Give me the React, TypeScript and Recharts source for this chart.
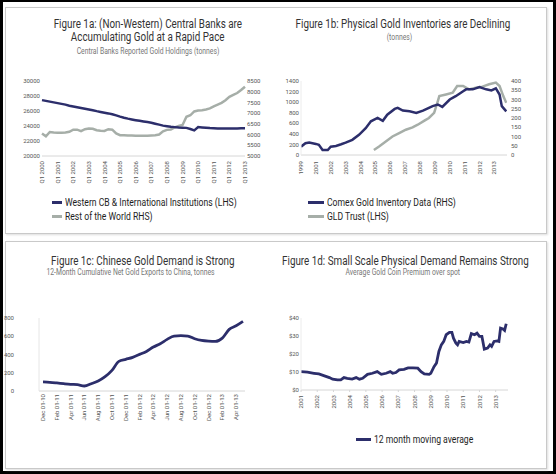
import React from 'react';
import { LineChart, Line, XAxis, YAxis } from 'recharts';

const FONT = 'Roboto, "Liberation Sans", sans-serif';
const NAVY = '#2c2e6b';
const GREY = '#a6aea8';
const AXIS = '#d6d6d6';
const TICK = '#555555';
const SQUEEZE = 0.82;

// Figure 1a - quarterly, Q1 2000 .. Q1 2013
const years1a = [2000, 2001, 2002, 2003, 2004, 2005, 2006, 2007, 2008, 2009, 2010, 2011, 2012, 2013];
const westernCB = [
  27450, 27350, 27250, 27150, 27050, 26950, 26850, 26700, 26600, 26500,
  26400, 26300, 26200, 26100, 25980, 25880, 25780, 25680, 25560, 25420,
  25250, 25100, 24980, 24880, 24780, 24690, 24600, 24520, 24430, 24300,
  24180, 24050, 23980, 23900, 23850, 23800, 23780, 23750, 23600, 23420,
  23850, 23800, 23760, 23720, 23700, 23680, 23680, 23660, 23660, 23670,
  23680, 23690, 23700,
];
const restOfWorld = [
  6050, 5920, 6120, 6100, 6090, 6080, 6100, 6130, 6230, 6230,
  6160, 6250, 6280, 6270, 6200, 6180, 6170, 6250, 6230, 6050,
  5970, 5970, 5960, 5960, 5950, 5950, 5940, 5940, 5960, 5970,
  6000, 6150, 6220, 6240, 6330, 6400, 6450, 6830, 6900, 7080,
  7120, 7140, 7170, 7220, 7320, 7400, 7480, 7600, 7760, 7850,
  7940, 8080, 8230,
];
const quarters1a = years1a.flatMap((y) => [1, 2, 3, 4].map((q) => `Q${q} ${y}`)).slice(0, westernCB.length);
const data1a = quarters1a.map((q, i) => ({ q, western: westernCB[i], rest: restOfWorld[i] }));

// Figure 1b - x in years from first label
const yearLabels1b = ['1999', '2001', '2002', '2003', '2004', '2005', '2006', '2007', '2008', '2009', '2010', '2011', '2012', '2013'];
const comexX = [0, 0.3, 0.55, 1.0, 1.2, 1.45, 1.8, 2.0, 2.35, 2.7, 3.0, 3.45, 3.9, 4.35, 4.7, 5.15, 5.5, 5.8, 6.3, 6.5, 6.85, 7.3, 7.75, 8.2, 8.6, 8.85, 9.2, 9.5, 10.0, 10.4, 10.9, 11.1, 11.55, 12.0, 12.45, 12.8, 13.1, 13.35, 13.5, 13.8];
const comexVal = [45, 64, 67, 60, 55, 27, 27, 45, 49, 58, 67, 82, 109, 145, 182, 200, 185, 218, 249, 255, 240, 236, 227, 240, 255, 264, 273, 260, 300, 318, 345, 355, 355, 367, 355, 349, 360, 327, 264, 236];
const gldX = [4.9, 5.25, 5.7, 6.15, 6.6, 7.05, 7.5, 7.85, 8.3, 8.6, 8.95, 9.2, 9.3, 9.75, 10.2, 10.5, 10.9, 11.3, 11.75, 12.2, 12.65, 13.1, 13.35, 13.6, 13.8];
const gldVal = [95, 160, 255, 350, 414, 478, 522, 573, 650, 700, 796, 1019, 1115, 1146, 1178, 1306, 1306, 1242, 1274, 1293, 1338, 1369, 1306, 1115, 987];
const comexData = comexX.map((t, i) => ({ t, v: comexVal[i] }));
const gldData = gldX.map((t, i) => ({ t, v: gldVal[i] }));

// Figure 1c - monthly, Dec 2010 .. May 2013
const months1c = [
  'Dec 01-10', 'Jan 01-11', 'Feb 01-11', 'Mar 01-11', 'Apr 01-11', 'May 01-11', 'Jun 01-11', 'Jul 01-11',
  'Aug 01-11', 'Sep 01-11', 'Oct 01-11', 'Nov 01-11', 'Dec 01-11', 'Jan 01-12', 'Feb 01-12', 'Mar 01-12',
  'Apr 01-12', 'May 01-12', 'Jun 01-12', 'Jul 01-12', 'Aug 01-12', 'Sep 01-12', 'Oct 01-12', 'Nov 01-12',
  'Dec 01-12', 'Jan 01-13', 'Feb 01-13', 'Mar 01-13', 'Apr 01-13', 'May 01-13',
];
const chinaExports = [99, 95, 88, 80, 73, 69, 55, 80, 110, 157, 226, 325, 347, 369, 401, 434, 482, 518, 566, 602, 606, 602, 573, 555, 547, 544, 580, 675, 715, 763];
const data1c = months1c.map((m, i) => ({ m, v: chinaExports[i] }));

// Figure 1d - x in years from 2001
const yearLabels1d = ['2001', '2002', '2003', '2004', '2005', '2006', '2007', '2008', '2009', '2010', '2011', '2012', '2013'];
const coinX = [0, 0.4, 0.8, 1.1, 1.4, 1.75, 1.95, 2.25, 2.45, 2.65, 2.85, 3.15, 3.4, 3.6, 3.8, 4.1, 4.4, 4.7, 4.95, 5.25, 5.5, 5.65, 5.85, 6.05, 6.35, 6.6, 6.9, 7.2, 7.4, 7.6, 7.9, 8.0, 8.2, 8.35, 8.5, 8.65, 8.8, 8.95, 9.15, 9.3, 9.4, 9.55, 9.65, 9.75, 10.0, 10.2, 10.35, 10.5, 10.7, 10.85, 11.0, 11.15, 11.2, 11.3, 11.5, 11.65, 11.75, 11.9, 12.1, 12.2, 12.3, 12.45, 12.55, 12.65];
const coinPremium = [10.2, 9.9, 9.3, 8.9, 8.0, 6.9, 6.0, 5.6, 5.6, 6.9, 6.5, 6.1, 6.9, 6.0, 6.5, 8.7, 9.3, 10.2, 8.7, 9.3, 10.2, 9.3, 9.7, 11.2, 11.5, 12.3, 12.3, 12.1, 10.2, 8.9, 8.7, 9.3, 13.0, 14.9, 21.4, 25.1, 27.0, 30.7, 32.0, 32.0, 28.8, 26.0, 25.1, 27.0, 26.4, 27.0, 26.6, 31.3, 30.7, 31.6, 29.8, 29.8, 27.5, 22.7, 23.3, 25.1, 24.2, 27.0, 27.3, 27.0, 34.4, 33.9, 33.1, 36.8];
const coinData = coinX.map((t, i) => ({ t, v: coinPremium[i] }));

const tickStyle = { fontSize: 6, fill: TICK, fontFamily: FONT };

const VTick = ({ x, y, payload, fmt }: any) => (
  <text x={x} y={y} transform={`rotate(-90, ${x}, ${y})`} textAnchor="end" dy="0.35em" fontSize={6} fill={TICK} fontFamily={FONT}>
    {fmt ? fmt(payload.value) : payload.value}
  </text>
);

const Text = ({ cx, cy, size, color, children }: any) => (
  <div
    style={{
      position: 'absolute', left: cx - 200, top: cy - size * 0.6, width: 400, textAlign: 'center',
      fontFamily: FONT, fontSize: size, lineHeight: `${size * 1.2}px`, color, whiteSpace: 'nowrap',
    }}
  >
    <span style={{ display: 'inline-block', transform: `scaleX(${SQUEEZE})`, transformOrigin: 'center' }}>{children}</span>
  </div>
);

const LegendRow = ({ x, y, w, color, label }: any) => (
  <div style={{ position: 'absolute', left: x, top: y - 7, height: 14, display: 'flex', alignItems: 'center', fontFamily: FONT, fontSize: 10.5, color: '#1e1e1e', whiteSpace: 'nowrap' }}>
    <span style={{ display: 'inline-block', width: w, height: 3, background: color, marginRight: 3 }} />
    <span style={{ display: 'inline-block', transform: `scaleX(${SQUEEZE})`, transformOrigin: 'left' }}>{label}</span>
  </div>
);

const Box = ({ x, y, w, h }: any) => (
  <div style={{ position: 'absolute', left: x, top: y, width: w, height: h, boxSizing: 'border-box', border: '1.5px solid #c9c9c9', boxShadow: '1px 1px 2px #dddddd' }} />
);

const Chart1a = () => (
  <div style={{ position: 'absolute', left: 0, top: 70 }}>
    <LineChart width={280} height={130} data={data1a} margin={{ top: 11, right: 0, bottom: 0, left: 0 }}>
      <XAxis dataKey="q" interval={3} height={44} tickSize={0} tickMargin={5} axisLine={{ stroke: AXIS }} tickLine={false}
        tick={<VTick />} />
      <YAxis yAxisId="l" width={42} domain={[20000, 30000]} ticks={[20000, 22000, 24000, 26000, 28000, 30000]} interval={0}
        axisLine={false} tickLine={false} tickSize={0} tickMargin={2} tick={tickStyle} />
      <YAxis yAxisId="r" orientation="right" width={35} domain={[5000, 8500]} ticks={[5000, 5500, 6000, 6500, 7000, 7500, 8000, 8500]} interval={0}
        axisLine={false} tickLine={false} tickSize={0} tickMargin={2} tick={tickStyle} />
      <Line yAxisId="r" dataKey="rest" stroke={GREY} strokeWidth={2.5} dot={false} type="linear" isAnimationActive={false} />
      <Line yAxisId="l" dataKey="western" stroke={NAVY} strokeWidth={2.5} dot={false} type="linear" isAnimationActive={false} />
    </LineChart>
  </div>
);

const Chart1b = () => (
  <div style={{ position: 'absolute', left: 276, top: 70 }}>
    <LineChart width={276} height={130} margin={{ top: 11, right: 0, bottom: 0, left: 0 }}>
      <XAxis dataKey="t" type="number" domain={[0, 13.85]} allowDataOverflow ticks={yearLabels1b.map((_, i) => i)} interval={0} height={45}
        tickSize={0} tickMargin={6} axisLine={{ stroke: AXIS }} tickLine={false}
        tick={<VTick fmt={(v: number) => yearLabels1b[v]} />} />
      <YAxis yAxisId="l" width={25} domain={[0, 1400]} ticks={[0, 200, 400, 600, 800, 1000, 1200, 1400]} interval={0}
        axisLine={{ stroke: '#ececec' }} tickLine={false} tickSize={0} tickMargin={2} tick={tickStyle} />
      <YAxis yAxisId="r" orientation="right" width={45} domain={[0, 400]} ticks={[0, 50, 100, 150, 200, 250, 300, 350, 400]} interval={0}
        axisLine={false} tickLine={false} tickSize={0} tickMargin={4} tick={tickStyle} />
      <Line yAxisId="l" data={gldData} dataKey="v" stroke={GREY} strokeWidth={2.5} dot={false} type="linear" isAnimationActive={false} />
      <Line yAxisId="r" data={comexData} dataKey="v" stroke={NAVY} strokeWidth={2.5} dot={false} type="linear" isAnimationActive={false} />
    </LineChart>
  </div>
);

const Chart1c = () => (
  <div style={{ position: 'absolute', left: 0, top: 300 }}>
    <LineChart width={280} height={135} data={data1c} margin={{ top: 18, right: 35, bottom: 0, left: 0 }}>
      <XAxis dataKey="m" interval={1} height={44} padding={{ left: 4, right: 2 }} tickSize={0} tickMargin={3}
        axisLine={{ stroke: AXIS }} tickLine={false} tick={<VTick />} />
      <YAxis width={39} domain={[0, 800]} ticks={[0, 200, 400, 600, 800]} interval={0}
        axisLine={{ stroke: '#e6e6e6' }} tickLine={false} tickSize={0} tickMargin={25} tick={tickStyle} />
      <Line dataKey="v" stroke={NAVY} strokeWidth={2.8} dot={false} type="monotone" isAnimationActive={false} />
    </LineChart>
  </div>
);

const Chart1d = () => (
  <div style={{ position: 'absolute', left: 276, top: 300 }}>
    <LineChart width={280} height={135} data={coinData} margin={{ top: 18, right: 48, bottom: 0, left: 0 }}>
      <XAxis dataKey="t" type="number" domain={[0, 12.76]} allowDataOverflow ticks={yearLabels1d.map((_, i) => i)} interval={0} height={45}
        tickSize={2} tickMargin={3} axisLine={{ stroke: AXIS }} tickLine={{ stroke: AXIS }}
        tick={<VTick fmt={(v: number) => yearLabels1d[v]} />} />
      <YAxis width={25} domain={[0, 40]} ticks={[0, 10, 20, 30, 40]} interval={0} tickFormatter={(v) => `$${v}`}
        axisLine={{ stroke: '#ececec' }} tickLine={false} tickSize={0} tickMargin={2} tick={tickStyle} />
      <Line dataKey="v" stroke={NAVY} strokeWidth={2.8} dot={false} type="linear" isAnimationActive={false} />
    </LineChart>
  </div>
);

export default function App() {
  return (
    <div style={{ position: 'absolute', left: 0, top: 0, width: 556, height: 474, background: '#fff', overflow: 'hidden' }}>
      <div style={{ position: 'absolute', left: 0, top: 0, width: 556, height: 474, boxSizing: 'border-box', borderStyle: 'solid', borderColor: '#000', borderWidth: '2px 3px 3px 3px' }} />
      <Box x={5} y={7} w={542} h={227} />
      <Box x={5} y={241} w={542} h={228} />

      <Text cx={148} cy={24} size={12} color="#333">Figure 1a: (Non-Western) Central Banks are</Text>
      <Text cx={148} cy={37} size={12} color="#333">Accumulating Gold at a Rapid Pace</Text>
      <Text cx={148} cy={52} size={8.3} color="#777">Central Banks Reported Gold Holdings (tonnes)</Text>

      <Text cx={403} cy={24} size={12} color="#333">Figure 1b: Physical Gold Inventories are Declining</Text>
      <Text cx={399} cy={38} size={8.3} color="#777">(tonnes)</Text>

      <Text cx={143} cy={261} size={12} color="#333">Figure 1c: Chinese Gold Demand is Strong</Text>
      <Text cx={130} cy={273} size={8.3} color="#777">12-Month Cumulative Net Gold Exports to China, tonnes</Text>

      <Text cx={405} cy={261} size={12} color="#333">Figure 1d: Small Scale Physical Demand Remains Strong</Text>
      <Text cx={403} cy={273} size={8.3} color="#777">Average Gold Coin Premium over spot</Text>

      <Chart1a />
      <Chart1b />
      <Chart1c />
      <Chart1d />

      <LegendRow x={52} y={202} w={10} color={NAVY} label="Western CB & International Institutions (LHS)" />
      <LegendRow x={52} y={216} w={10} color={GREY} label="Rest of the World RHS)" />
      <LegendRow x={308} y={202} w={16} color={NAVY} label="Comex Gold Inventory Data (RHS)" />
      <LegendRow x={308} y={216} w={16} color={GREY} label="GLD Trust (LHS)" />
      <LegendRow x={356} y={439} w={15} color={NAVY} label="12 month moving average" />
    </div>
  );
}
